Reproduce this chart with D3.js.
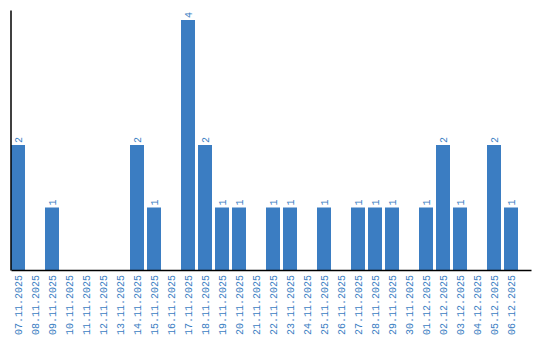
<!DOCTYPE html>
<html>
<head>
<meta charset="utf-8">
<script src="https://cdn.jsdelivr.net/npm/d3@7"></script>
<style>
  body { margin: 0; background: #fff; }
  .lbl { font-family: "Liberation Mono", "DejaVu Sans Mono", monospace; font-size: 10px; fill: #3a7dc2; }
</style>
</head>
<body>
<script>
var days = ["07.11.2025","08.11.2025","09.11.2025","10.11.2025","11.11.2025","12.11.2025",
  "13.11.2025","14.11.2025","15.11.2025","16.11.2025","17.11.2025","18.11.2025","19.11.2025",
  "20.11.2025","21.11.2025","22.11.2025","23.11.2025","24.11.2025","25.11.2025","26.11.2025",
  "27.11.2025","28.11.2025","29.11.2025","30.11.2025","01.12.2025","02.12.2025","03.12.2025",
  "04.12.2025","05.12.2025","06.12.2025"]
var counts = [2,0,1,0,0,0,0,2,1,0,4,2,1,1,0,1,1,0,1,0,1,1,1,0,1,2,1,0,2,1]

var W = 540, H = 340
var plotLeft = 11, plotRight = 531, plotTop = 10, base = 270
var step = 17, pIn = 3 / 17
var pOut = ((plotRight - plotLeft) / step - days.length + pIn) / 2

var x = d3.scaleBand().domain(days).range([plotLeft, plotRight])
  .paddingInner(pIn).paddingOuter(pOut).align(0)
var y = d3.scaleLinear().domain([0, 4.16]).range([base, plotTop])

var svg = d3.select("body").append("svg").attr("width", W).attr("height", H)

var data = days.map(function(d, i) { return {day: d, n: counts[i]} })

// bars
svg.append("g").selectAll("rect")
  .data(data.filter(function(d) { return d.n > 0 }))
  .enter().append("rect")
  .attr("x", function(d) { return x(d.day) })
  .attr("y", function(d) { return y(d.n) })
  .attr("width", x.bandwidth())
  .attr("height", function(d) { return base - y(d.n) })
  .attr("fill", "#3b7dc2")

// value labels
svg.append("g").selectAll("text")
  .data(data.filter(function(d) { return d.n > 0 }))
  .enter().append("text")
  .attr("class", "lbl")
  .attr("transform", function(d) {
    return "translate(" + (x(d.day) + x.bandwidth() / 2) + "," + (y(d.n) - 2) + ") rotate(-90)" })
  .attr("dy", "0.35em")
  .text(function(d) { return d.n })

// x axis
var xAxis = svg.append("g").attr("transform", "translate(0," + base + ")")
  .call(d3.axisBottom(x).tickSize(0).tickSizeOuter(0))
xAxis.select(".domain").attr("stroke", "#000").attr("stroke-width", 1.5)
xAxis.selectAll("text")
  .attr("class", "lbl")
  .attr("transform", "rotate(-90)")
  .attr("x", -5).attr("y", 0).attr("dy", "0.35em")
  .style("text-anchor", "end")

// y axis, just the line
var yAxis = svg.append("g").attr("transform", "translate(" + (plotLeft - 0.5) + ",0)")
  .call(d3.axisLeft(y).ticks(0).tickSizeOuter(0))
yAxis.select(".domain").attr("stroke", "#000").attr("stroke-width", 1.5)
</script>
</body>
</html>
